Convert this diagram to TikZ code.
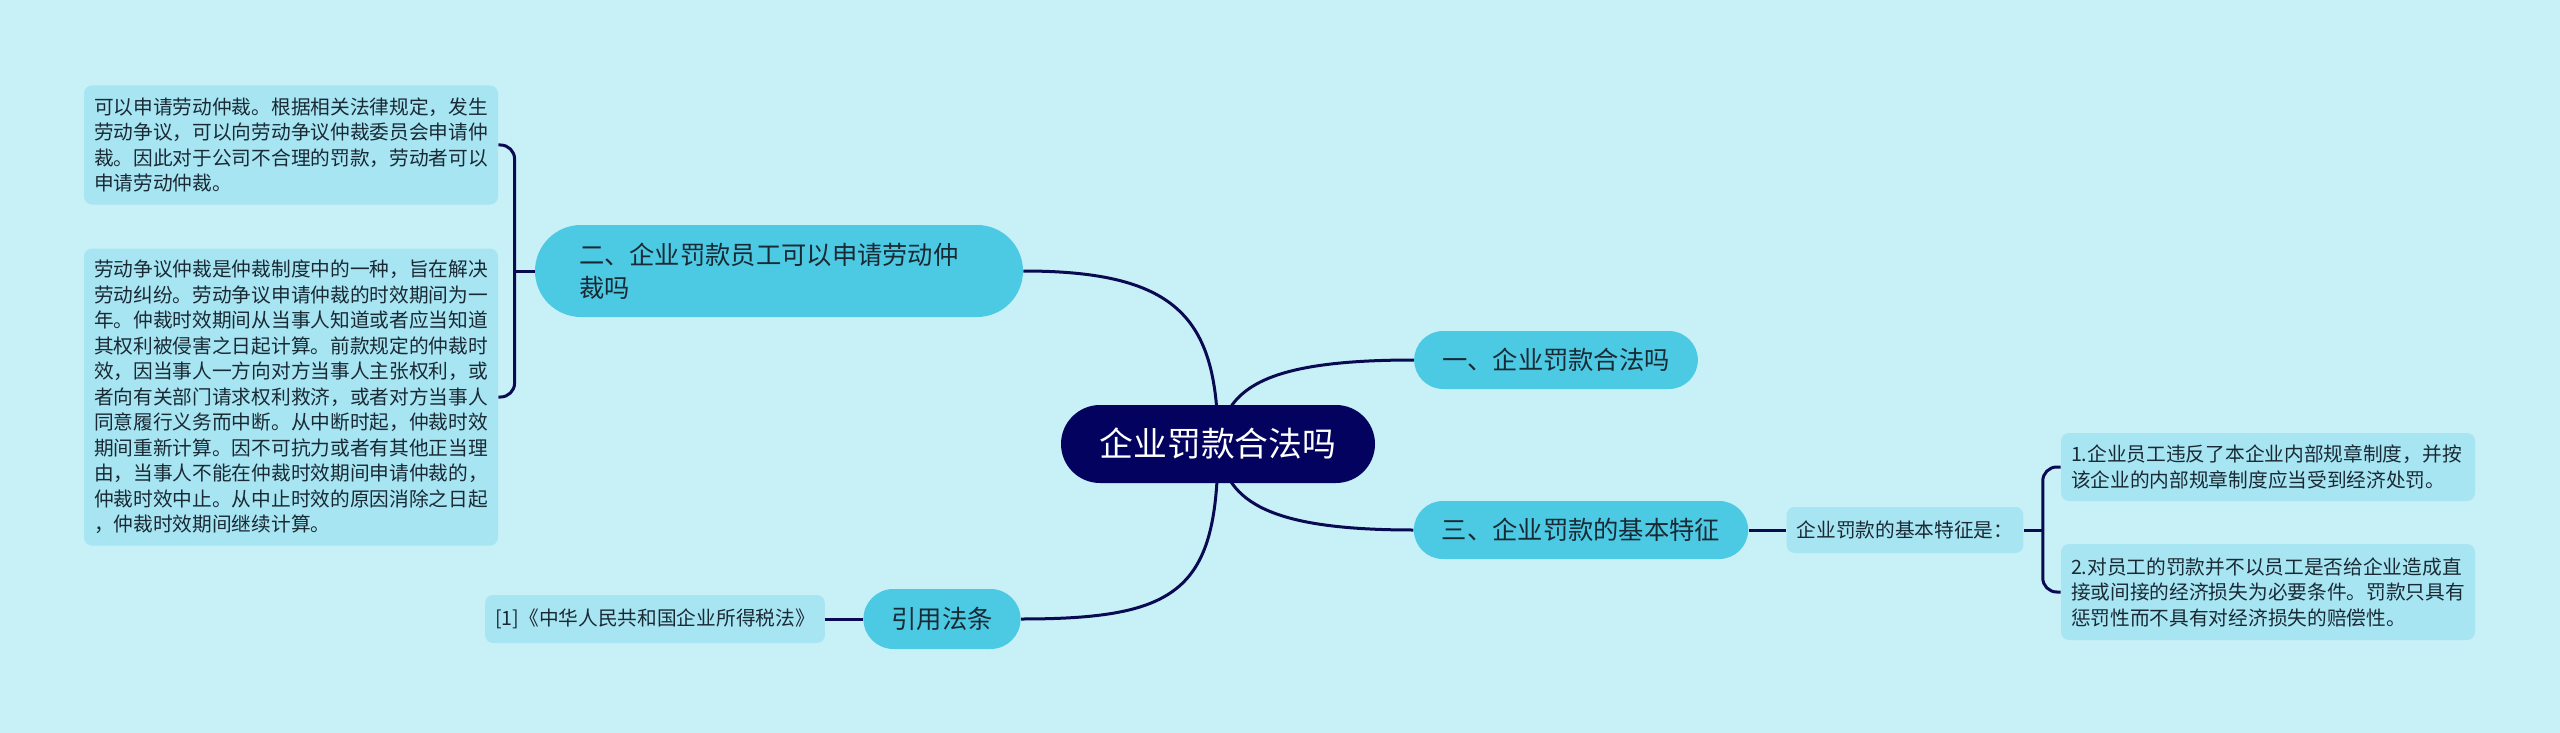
\documentclass[tikz,border=0pt]{standalone}
\usepackage{fontspec}
\setmainfont{Noto Sans CJK SC}
\usepackage{xcolor}
\usetikzlibrary{positioning, calc}

\definecolor{bgcyan}{HTML}{C8F0F7}
\definecolor{rootnavy}{HTML}{03035F}
\definecolor{topiccyan}{HTML}{4CC9E3}
\definecolor{leafcyan}{HTML}{A8E5F2}
\definecolor{linknavy}{HTML}{0A0A52}
\definecolor{textdark}{HTML}{1A2A35}

\pgfdeclarelayer{bg}
\pgfdeclarelayer{links}
\pgfsetlayers{bg,links,main}

\begin{document}
\begin{tikzpicture}[
  x=0.5pt, y=-0.5pt,
  root/.style={rectangle, fill=rootnavy, text=white, rounded corners=19.5pt,
    minimum width=157pt, minimum height=39pt,
    font=\fontsize{16.9}{20}\selectfont},
  topic/.style={rectangle, fill=topiccyan, text=textdark, rounded corners=14.5pt,
    minimum height=29pt, inner xsep=14pt,
    font=\fontsize{12.65}{16.5}\selectfont},
  leaf/.style={rectangle, fill=leafcyan, text=textdark, rounded corners=4pt,
    inner xsep=5pt, inner ysep=0pt, align=left,
    font=\fontsize{9.85}{12.75}\selectfont},
  link/.style={draw=linknavy, line width=1.5pt},
]

\begin{pgfonlayer}{bg}
\fill[bgcyan] (0,0) rectangle (2560,733);
\end{pgfonlayer}
\useasboundingbox (0,0) rectangle (2560,733);

\node[root] (root) at (1218,444) {企业罚款合法吗};

\node[topic] (legal) at (1556,360) {一、企业罚款合法吗};
\node[topic, text width=200pt, align=left, inner xsep=22pt,
      minimum height=46pt, rounded corners=23pt]
      (appeal) at (779,271) {二、企业罚款员工可以申请劳动仲\\裁吗};
\node[topic] (trait) at (1581,530) {三、企业罚款的基本特征};
\node[topic, minimum height=30pt, rounded corners=15pt] (cite) at (942,619) {引用法条};

\node[leaf, minimum height=24pt] (law) at (655,619) {[1]《中华人民共和国企业所得税法》};
\node[leaf, minimum height=23pt] (traitis) at (1905,530) {企业罚款的基本特征是：};

\node[leaf, text width=197pt, minimum height=34pt] (tr1) at (2268,467)
  {1.企业员工违反了本企业内部规章制度，并按\\
   该企业的内部规章制度应当受到经济处罚。};
\node[leaf, text width=197pt, minimum height=48pt] (tr2) at (2268,592)
  {2.对员工的罚款并不以员工是否给企业造成直\\
   接或间接的经济损失为必要条件。罚款只具有\\
   惩罚性而不具有对经济损失的赔偿性。};

\node[leaf, text width=197pt, minimum height=59.5pt] (ap1) at (291,145)
  {可以申请劳动仲裁。根据相关法律规定，发生\\
   劳动争议，可以向劳动争议仲裁委员会申请仲\\
   裁。因此对于公司不合理的罚款，劳动者可以\\
   申请劳动仲裁。};
\node[leaf, text width=197pt, minimum height=148.5pt] (ap2) at (291,397)
  {劳动争议仲裁是仲裁制度中的一种，旨在解决\\
   劳动纠纷。劳动争议申请仲裁的时效期间为一\\
   年。仲裁时效期间从当事人知道或者应当知道\\
   其权利被侵害之日起计算。前款规定的仲裁时\\
   效，因当事人一方向对方当事人主张权利，或\\
   者向有关部门请求权利救济，或者对方当事人\\
   同意履行义务而中断。从中断时起，仲裁时效\\
   期间重新计算。因不可抗力或者有其他正当理\\
   由，当事人不能在仲裁时效期间申请仲裁的，\\
   仲裁时效中止。从中止时效的原因消除之日起\\
   ，仲裁时效期间继续计算。};

% connectors under the nodes
\begin{pgfonlayer}{links}
\draw[link] (root.center) .. controls (1218,320) and (1180,271) .. (appeal.east);
\draw[link] (root.center) .. controls (1225,390) and (1260,360) .. (legal.west);
\draw[link] (root.center) .. controls (1225,498) and (1260,530) .. (trait.west);
\draw[link] (root.center) .. controls (1218,590) and (1180,619) .. (cite.east);

\draw[link] (trait.east) -- (traitis.west);
\draw[link] (cite.west) -- (law.east);

\draw[link] (appeal.west) -- ++(-10pt,0) coordinate (lbr);
\draw[link, rounded corners=7pt] (ap1.east) -| (lbr) |- (ap2.east);
\draw[link] (traitis.east) -- ++(9.5pt,0) coordinate (rbr);
\draw[link, rounded corners=7pt] (tr1.west) -| (rbr) |- (tr2.west);
\end{pgfonlayer}

\end{tikzpicture}
\end{document}
